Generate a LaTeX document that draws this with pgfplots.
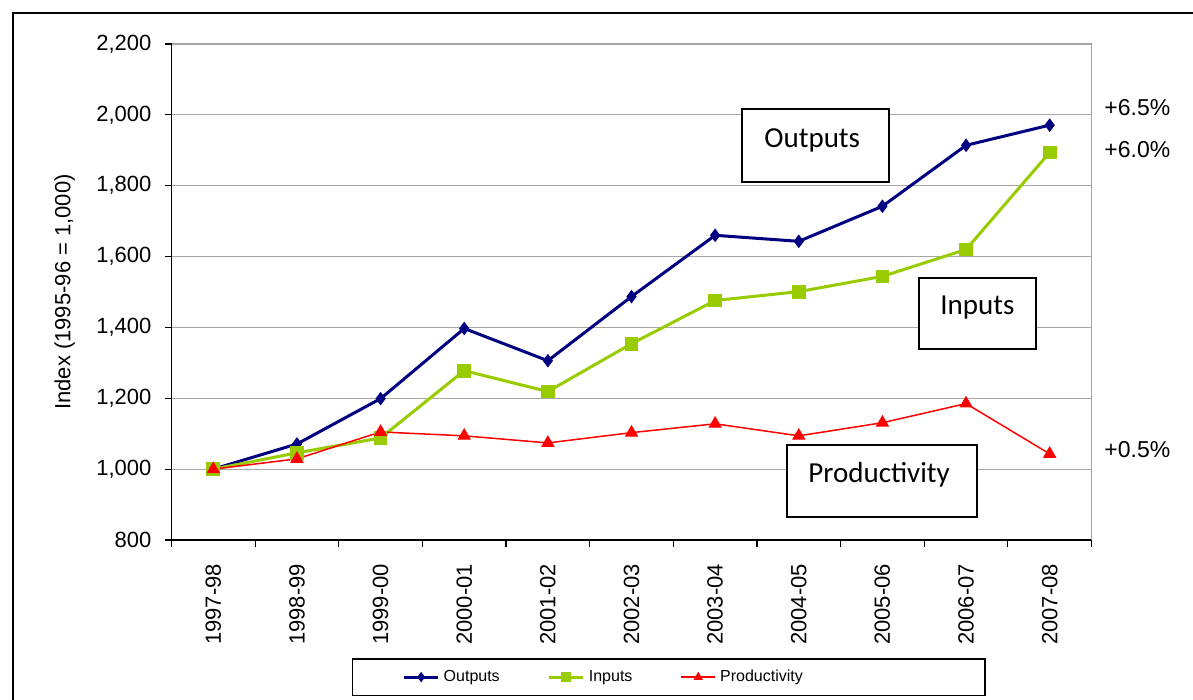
\documentclass[border=0pt]{standalone}
\usepackage{pgfplots}
\pgfplotsset{compat=1.18}
\usepackage{fontspec}
\setmainfont{Liberation Sans}
\newfontfamily\calibri{Carlito}
\definecolor{navy}{RGB}{0,0,128}
\definecolor{limeg}{RGB}{153,204,0}
\definecolor{redc}{RGB}{255,0,0}
\begin{document}
\begin{tikzpicture}
\useasboundingbox (0,0) rectangle (596.5pt,350pt);
\draw[line width=0.75pt] (6.5pt,0) -- (6.5pt,343.5pt) -- (596.5pt,343.5pt);
\begin{axis}[
  scale only axis, width=460pt, height=248pt,
  at={(85.75pt,80pt)}, anchor=south west,
  xmin=-0.5, xmax=10.5, ymin=800, ymax=2200,
  axis lines*=left,
  axis line style={black, line width=0.75pt},
  xtick={0,...,10},
  xticklabels={1997-98,1998-99,1999-00,2000-01,2001-02,2002-03,2003-04,2004-05,2005-06,2006-07,2007-08},
  major x tick style={draw=none},
  minor xtick={-0.5,0.5,...,10.5},
  ytick={800,1000,...,2200},
  ymajorgrids, grid style={black!35, line width=0.6pt},
  tick align=outside, major tick length=3.5pt, minor tick length=3.5pt,
  tick style={black, line width=0.6pt},
  /pgf/number format/assume math mode=true,
  /pgf/number format/1000 sep={,},
  ticklabel style={font=\fontsize{11}{13}\selectfont},
  x tick label style={rotate=90, anchor=east},
  xticklabel shift=5pt,
  y tick label style={xshift=-3pt},
  ylabel={Index (1995-96 = 1,000)},
  ylabel style={at={(axis description cs:-0.116,0.5)}, anchor=center, font=\fontsize{11}{13}\selectfont},
  clip=false,
  legend columns=3,
  legend image post style={mark size=2.2pt},
  legend style={at={(0.196,-0.238)}, anchor=north west, draw=black, line width=0.75pt,
    font=\fontsize{8}{9.6}\selectfont, inner xsep=25pt, inner ysep=3.5pt,
    /tikz/every even column/.append style={column sep=22pt}},
]
\addplot[color=navy, line width=1.5pt, mark=diamond*, mark size=3pt, mark options={solid, line width=0.5pt}]
coordinates {(0,1000) (1,1071) (2,1199) (3,1397) (4,1306) (5,1487) (6,1660) (7,1643) (8,1742) (9,1914) (10,1971)};
\addlegendentry{Outputs}
\addplot[color=limeg, line width=1.5pt, mark=square*, mark size=3.2pt, mark options={solid, line width=0.5pt}]
coordinates {(0,1000) (1,1046) (2,1088) (3,1278) (4,1219) (5,1354) (6,1476) (7,1501) (8,1544) (9,1620) (10,1894)};
\addlegendentry{Inputs}
\addplot[color=redc, line width=0.75pt, mark=triangle*, mark size=3.4pt, mark options={solid, line width=0.5pt}]
coordinates {(0,1000) (1,1029) (2,1105) (3,1094) (4,1074) (5,1103) (6,1128) (7,1094) (8,1131) (9,1185) (10,1043)};
\addlegendentry{Productivity\kern64pt}
\draw[black!35, line width=0.6pt] (rel axis cs:1,0) -- (rel axis cs:1,1);
\end{axis}
% annotation boxes
\draw[line width=0.75pt, fill=white] (371pt,259pt) rectangle (444.5pt,295.5pt);
\node[anchor=west, inner sep=0pt, font=\calibri\fontsize{14.5}{17}\selectfont] at (382pt,280pt) {Outputs};
\draw[line width=0.75pt, fill=white] (459.5pt,175.5pt) rectangle (518pt,211pt);
\node[anchor=west, inner sep=0pt, font=\calibri\fontsize{14.5}{17}\selectfont] at (470pt,196pt) {Inputs};
\draw[line width=0.75pt, fill=white] (393.5pt,91.5pt) rectangle (488.5pt,127.5pt);
\node[anchor=west, inner sep=0pt, font=\calibri\fontsize{14.5}{17}\selectfont] at (404pt,112.5pt) {Productivity};
% growth labels
\node[anchor=west, inner sep=0pt, font=\fontsize{11.5}{13}\selectfont] at (552pt,296pt) {+6.5\%};
\node[anchor=west, inner sep=0pt, font=\fontsize{11.5}{13}\selectfont] at (552pt,275pt) {+6.0\%};
\node[anchor=west, inner sep=0pt, font=\fontsize{11.5}{13}\selectfont] at (552pt,125pt) {+0.5\%};
\end{tikzpicture}
\end{document}
